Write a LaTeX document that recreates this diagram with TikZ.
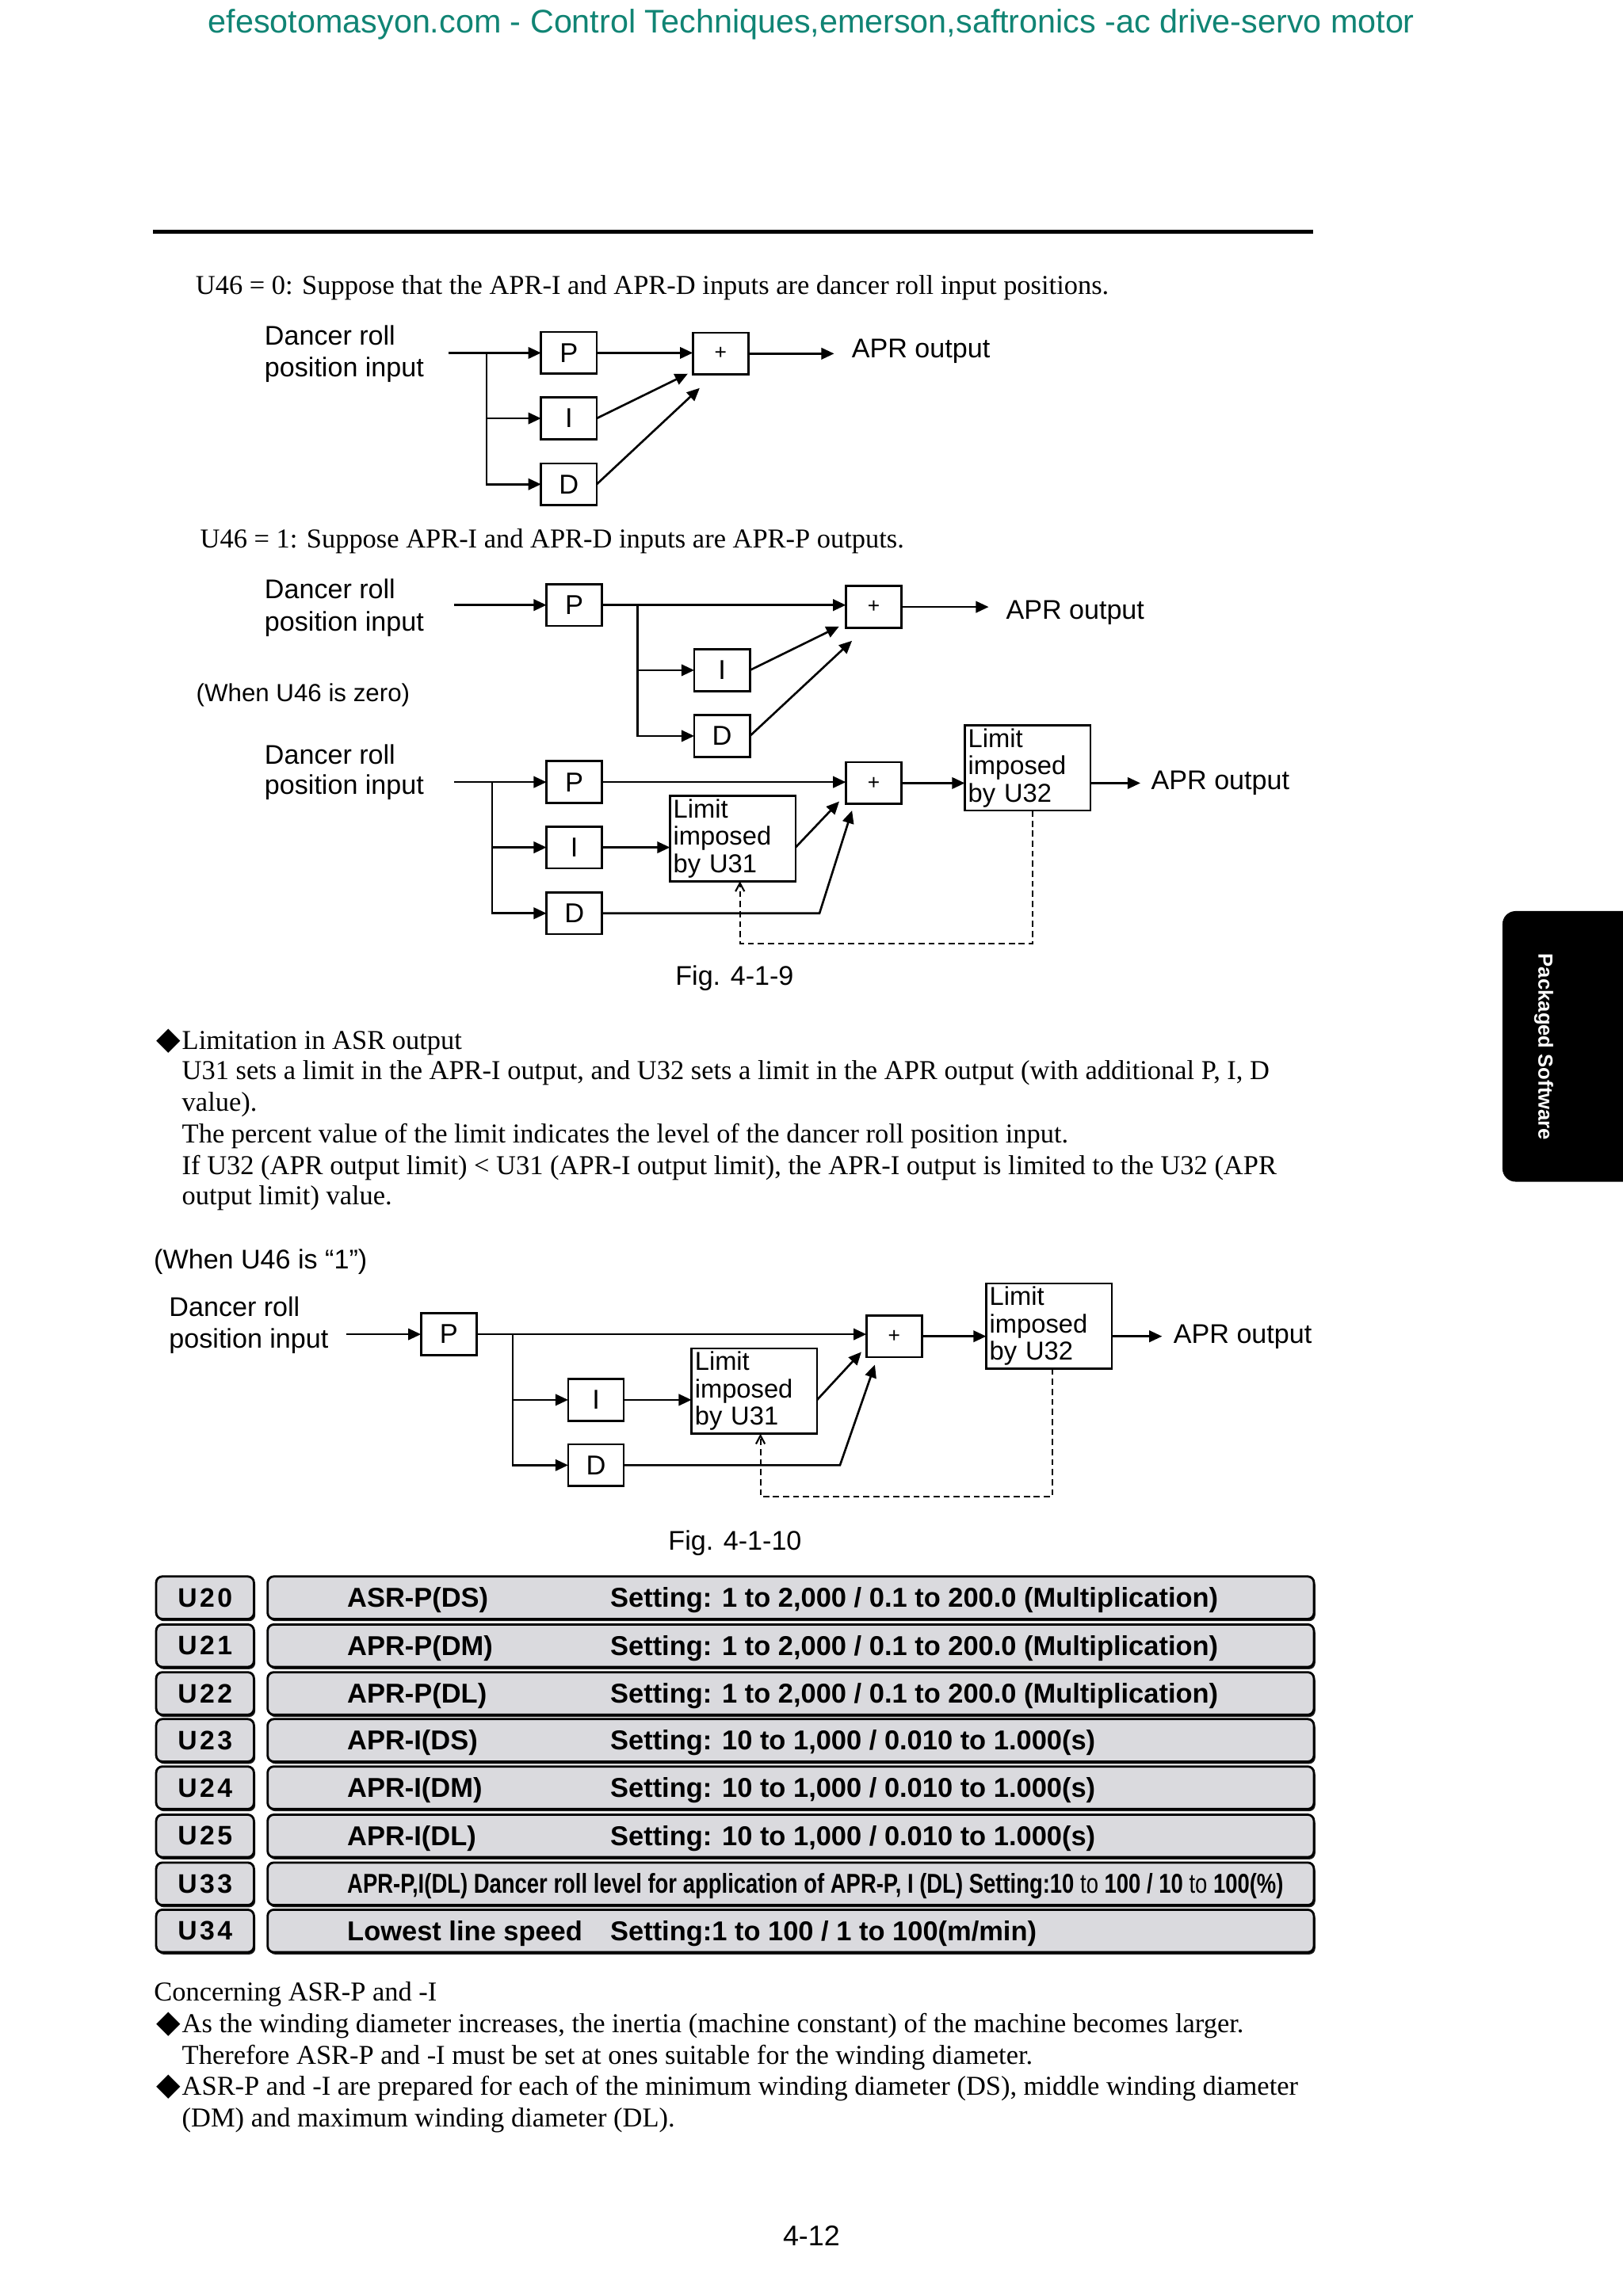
\documentclass[tikz,border=0pt]{standalone}
\usepackage{graphicx}
\usepackage{fontspec}
\setmainfont{Liberation Serif}
\setsansfont{Liberation Sans}
\newfontfamily\dejavu{DejaVu Sans}
\newfontfamily\codefont{Liberation Sans}[LetterSpace=10]
\usetikzlibrary{arrows.meta,calc,shadows}
\definecolor{teal1}{RGB}{16,132,116}
\definecolor{rowgray}{RGB}{218,218,222}
\tikzset{
  every node/.style={inner sep=0pt, outer sep=0pt},
  ln/.style={line width=0.75pt},
  arr/.style={ln, -{Triangle[length=4.6pt,width=4.1pt]}},
  blk/.style={draw, line width=0.75pt, minimum width=0.702cm, minimum height=0.527cm, font=\sffamily\fontsize{9.8}{11}\selectfont},
  sumbox/.style={blk, font=\sffamily\fontsize{7.5}{9}\selectfont},
  lim/.style={draw, line width=0.75pt, minimum width=1.55cm, minimum height=1.055cm, text width=1.50cm, align=left, inner sep=1.2pt, font=\sffamily\fontsize{9.3}{9.8}\selectfont},
  dsh/.style={line width=0.6pt, dash pattern=on 2.2pt off 1.4pt, -{Straight Barb[length=3pt,width=3.2pt]}},
  body/.style={anchor=base west, font=\fontsize{9.8}{11}\selectfont},
  dia/.style={anchor=base west, font=\dejavu\fontsize{11.3}{12}\selectfont},
  lab/.style={anchor=base west, font=\sffamily\fontsize{9.7}{11}\selectfont},
  figcap/.style={anchor=base, font=\sffamily\fontsize{9.7}{11}\selectfont},
  tshadow/.style={drop shadow={opacity=0.9, fill=black, shadow xshift=0.5pt, shadow yshift=-0.8pt}},
  codebox/.style={draw, line width=0.8pt, fill=rowgray, rounded corners=2.2pt, tshadow, minimum width=1.233cm, minimum height=0.536cm, font=\codefont\bfseries\fontsize{9.6}{11}\selectfont},
  rowbox/.style={draw, line width=0.8pt, fill=rowgray, rounded corners=2.2pt, tshadow, minimum width=13.2cm, minimum height=0.536cm},
  cell/.style={anchor=base west, font=\sffamily\bfseries\fontsize{9.8}{11}\selectfont},
}
\newcommand\tabrow[4]{%
  \node[codebox] (c#1) at (140,#2) {#1};
  \node[rowbox] (r#1) at (539.9,#2) {};
  \node[cell] (n#1) at (237.1,#2+6.5) {#3};
  \node[cell] (s#1) at (416.7,#2+6.5) {#4};}
\begin{document}
\begin{tikzpicture}[x=0.018484cm, y=-0.018484cm]
\useasboundingbox (0,0) rectangle (1108,1568);
\fill[white] (0,0) rectangle (1108,1568);

% header
\node[anchor=base, font=\sffamily\fontsize{11.75}{14}\selectfont, text=teal1] (hdr) at (554,22.3) {efesotomasyon.com - Control Techniques,emerson,saftronics -ac drive-servo motor};
\coordinate (ruleL) at (104.5,158.3);
\coordinate (ruleR) at (896.5,158.3);
\draw[line width=1.4pt] (ruleL) -- (ruleR);

% side tab
\fill[black, rounded corners=4.7pt] (1125,622.2) rectangle (1025.8,807);
\node[rotate=-90, text=white, font=\sffamily\bfseries\fontsize{7.3}{8}\selectfont] (tab) at (1054,715) {Packaged Software};

% ---------- Fig 1 (U46 = 0)
\node[body] (u46a) at (133.6,200.8) {U46 = 0: Suppose that the APR-I and APR-D inputs are dancer roll input positions.};
\node[lab] (dr1) at (180.7,235.5) {Dancer roll};
\node[lab] (pi1) at (180.7,257) {position input};
\node[blk] (P1) at (388.4,241) {P};
\node[blk] (I1) at (388.4,285.7) {I};
\node[blk] (D1) at (388.4,330.7) {D};
\node[sumbox] (S1) at (492,241.5) {+};
\node[lab] (o1) at (581.6,244.5) {APR output};
\coordinate (in1) at (306.2,241);
\coordinate (br1) at (332.3,241);
\coordinate (out1) at (569.5,241);
\coordinate (ti1) at (469.6,255.2);
\coordinate (td1) at (477.7,265);
\draw[arr] (in1) -- (P1.west);
\draw[arr] (br1) |- (I1.west);
\draw[arr] (br1) |- (D1.west);
\draw[arr] (P1.east) -- (P1.east -| S1.west);
\draw[arr] (S1.east) -- (S1.east -| out1);
\draw[arr] (I1.east) -- (ti1);
\draw[arr] (D1.east) -- (td1);

% ---------- Fig 2 upper
\node[body] (u46b) at (136.7,374.2) {U46 = 1: Suppose APR-I and APR-D inputs are APR-P outputs.};
\node[lab] (dr2) at (180.7,408.9) {Dancer roll};
\node[lab] (pi2) at (180.7,430.7) {position input};
\node[blk] (P2) at (392.1,413.2) {P};
\node[blk] (I2) at (493,457.7) {I};
\node[blk] (D2) at (493,502.6) {D};
\node[sumbox] (S2) at (596.5,414.5) {+};
\node[lab] (o2) at (686.9,422.7) {APR output};
\node[lab, font=\sffamily\fontsize{8.9}{11}\selectfont] (wz) at (134,479.3) {(When U46 is zero)};
\coordinate (in2) at (310,413.2);
\coordinate (br2) at (435.3,413.2);
\coordinate (out2) at (675,413.5);
\coordinate (ti2) at (572.9,427.8);
\coordinate (td2) at (581.7,437.6);
\draw[arr] (in2) -- (P2.west);
\draw[arr] (P2.east) -- (P2.east -| S2.west);
\draw[arr] (br2) |- (I2.west);
\draw[arr] (br2) |- (D2.west);
\draw[arr] (S2.east) -- (S2.east -| out2);
\draw[arr] (I2.east) -- (ti2);
\draw[arr] (D2.east) -- (td2);

% ---------- Fig 2 lower
\node[lab] (dr3) at (180.7,521.7) {Dancer roll};
\node[lab] (pi3) at (180.7,542.4) {position input};
\node[blk] (P3) at (392.1,534.1) {P};
\node[blk] (I3) at (392.1,578.7) {I};
\node[blk] (D3) at (392.1,623.7) {D};
\node[sumbox] (S3) at (596.5,534.8) {+};
\node[lim] (L32a) at (701.6,524.4) {Limit\\imposed\\by U32};
\node[lim] (L31a) at (500.3,572.7) {Limit\\imposed\\by U31};
\node[lab] (o3) at (786,539.3) {APR output};
\coordinate (in3) at (310,534.1);
\coordinate (br3) at (335.9,534.1);
\coordinate (out3) at (778.6,534.8);
\coordinate (tl3) at (573,547.3);
\coordinate (dk3) at (559.5,623.7);
\coordinate (td3) at (581.7,553.5);
\coordinate (fa3) at (704.9,644.2);
\coordinate (fb3) at (505.2,644.2);
\draw[arr] (in3) -- (P3.west);
\draw[arr] (br3) |- (I3.west);
\draw[arr] (br3) |- (D3.west);
\draw[arr] (P3.east) -- (P3.east -| S3.west);
\draw[arr] (S3.east) -- (S3.east -| L32a.west);
\draw[arr] (L32a.east |- S3.east) -- (S3.east -| out3);
\draw[arr] (I3.east) -- (I3.east -| L31a.west);
\draw[arr] (L31a.east |- I3.east) -- (tl3);
\draw[arr] (D3.east) -- (D3.east -| dk3) -- (td3);
\draw[dsh] (L32a.south -| fa3) -- (fa3) -- (fb3) -- (fb3 |- L31a.south);
\node[figcap] (fig9) at (501.5,672.9) {Fig. 4-1-9};

% ---------- Text block
\node[dia] (dm1) at (107,716.5) {◆};
\node[body] (tb1) at (124.3,716.5) {Limitation in ASR output};
\node[body] (tb2) at (124.3,737.3) {U31 sets a limit in the APR-I output, and U32 sets a limit in the APR output (with additional P, I, D};
\node[body] (tb3) at (124.3,758.9) {value).};
\node[body] (tb4) at (124.3,780.5) {The percent value of the limit indicates the level of the dancer roll position input.};
\node[body] (tb5) at (124.3,802.2) {If U32 (APR output limit) < U31 (APR-I output limit), the APR-I output is limited to the U32 (APR};
\node[body] (tb6) at (124.3,822.9) {output limit) value.};

% ---------- Fig 3
\node[lab] (wh1) at (105.1,866.7) {(When U46 is “1”)};
\node[lab] (dr4) at (115.5,899.2) {Dancer roll};
\node[lab] (pi4) at (115.5,920.8) {position input};
\node[blk] (P4) at (306.4,911.2) {P};
\node[blk] (I4) at (406.9,956) {I};
\node[blk] (D4) at (406.9,1000.6) {D};
\node[sumbox] (S4) at (610.5,912.6) {+};
\node[lim] (L32b) at (716.2,905.6) {Limit\\imposed\\by U32};
\node[lim] (L31b) at (515,950) {Limit\\imposed\\by U31};
\node[lab] (o4) at (801.3,917.2) {APR output};
\coordinate (in4) at (236.2,911.2);
\coordinate (br4) at (350,911.2);
\coordinate (out4) at (793.4,912.6);
\coordinate (tl4) at (588.1,923.3);
\coordinate (dk4) at (573.5,1000.6);
\coordinate (td4) at (597.3,932);
\coordinate (fa4) at (718.5,1022.1);
\coordinate (fb4) at (519.2,1022.1);
\draw[arr] (in4) -- (P4.west);
\draw[arr] (P4.east) -- (P4.east -| S4.west);
\draw[arr] (br4) |- (I4.west);
\draw[arr] (br4) |- (D4.west);
\draw[arr] (S4.east) -- (S4.east -| L32b.west);
\draw[arr] (L32b.east |- S4.east) -- (S4.east -| out4);
\draw[arr] (I4.east) -- (I4.east -| L31b.west);
\draw[arr] (L31b.east |- I4.east) -- (tl4);
\draw[arr] (D4.east) -- (D4.east -| dk4) -- (td4);
\draw[dsh] (L32b.south -| fa4) -- (fa4) -- (fb4) -- (fb4 |- L31b.south);
\node[figcap] (fig10) at (501.8,1058.8) {Fig. 4-1-10};

% ---------- Table
\tabrow{U20}{1091.1}{ASR-P(DS)}{Setting: 1 to 2,000 / 0.1 to 200.0 (Multiplication)}
\tabrow{U21}{1123.9}{APR-P(DM)}{Setting: 1 to 2,000 / 0.1 to 200.0 (Multiplication)}
\tabrow{U22}{1156.5}{APR-P(DL)}{Setting: 1 to 2,000 / 0.1 to 200.0 (Multiplication)}
\tabrow{U23}{1188.5}{APR-I(DS)}{Setting: 10 to 1,000 / 0.010 to 1.000(s)}
\tabrow{U24}{1220.9}{APR-I(DM)}{Setting: 10 to 1,000 / 0.010 to 1.000(s)}
\tabrow{U25}{1253.8}{APR-I(DL)}{Setting: 10 to 1,000 / 0.010 to 1.000(s)}
\tabrow{U33}{1286.5}{\resizebox{11.81cm}{\height}{APR-P,I(DL) Dancer roll level for application of APR-P, I (DL) Setting:10 {\mdseries to} 100 / 10 {\mdseries to} 100(\%)}}{}
\tabrow{U34}{1318.7}{Lowest line speed}{Setting:1 to 100 / 1 to 100(m/min)}

% ---------- Bottom text
\node[body] (bt1) at (105.2,1366.6) {Concerning ASR-P and -I};
\node[dia] (dm2) at (107,1388.3) {◆};
\node[body] (bt2) at (124.3,1388.3) {As the winding diameter increases, the inertia (machine constant) of the machine becomes larger.};
\node[body] (bt3) at (124.3,1409.9) {Therefore ASR-P and -I must be set at ones suitable for the winding diameter.};
\node[dia] (dm3) at (107,1430.6) {◆};
\node[body] (bt4) at (124.3,1430.6) {ASR-P and -I are prepared for each of the minimum winding diameter (DS), middle winding diameter};
\node[body] (bt5) at (124.3,1452.3) {(DM) and maximum winding diameter (DL).};
\node[anchor=base, font=\sffamily\fontsize{10.2}{12}\selectfont] (pg) at (554,1533.8) {4-12};
\end{tikzpicture}
\end{document}
